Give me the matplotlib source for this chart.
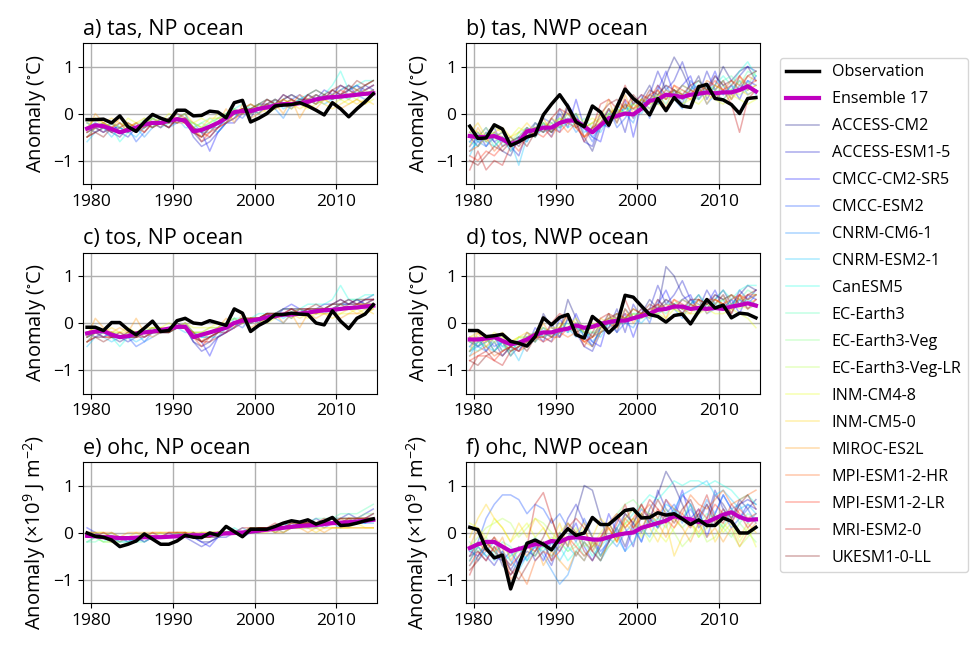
import numpy as np
import matplotlib
matplotlib.use("Agg")
import matplotlib.pyplot as plt

plt.rcParams['font.family'] = ['Open Sans', 'DejaVu Sans']
plt.rcParams['mathtext.fontset'] = 'custom'
plt.rcParams['mathtext.rm'] = 'Open Sans'
plt.rcParams['mathtext.default'] = 'regular'

# ---------------------------------------------------------------- data
years = np.arange(1979, 2015)

model_names = ["ACCESS-CM2", "ACCESS-ESM1-5", "CMCC-CM2-SR5", "CMCC-ESM2",
               "CNRM-CM6-1", "CNRM-ESM2-1", "CanESM5", "EC-Earth3",
               "EC-Earth3-Veg", "EC-Earth3-Veg-LR", "INM-CM4-8", "INM-CM5-0",
               "MIROC-ES2L", "MPI-ESM1-2-HR", "MPI-ESM1-2-LR", "MRI-ESM2-0",
               "UKESM1-0-LL"]

# a) tas, NP ocean
tas_np_obs = [-.13,-.13,-.12,-.2,-.05,-.28,-.38,-.18,-.02,  -.1,-.16,.07,.07,-.05,-.04,.05,.03,-.09,
              .23,.28,-.18,-.1,0,.16,.18,.19,.23,  .16,.07,-.03,.23,.1,-.07,.1,.25,.42]
tas_np_ens = [-.32,-.25,-.27,-.33,-.4,-.35,-.3,-.23,-.2,  -.2,-.15,-.12,-.15,-.38,-.35,-.28,-.2,-.1,
              .03,.05,.05,.1,.13,.17,.2,.2,.22,  .25,.3,.33,.35,.36,.38,.4,.42,.43]
tas_np_models = [
    [-.4,-.3,-.2,-.4,-.5,-.3,-.4,-.3,-.1,  -.2,-.3,-.1,0,-.4,-.6,-.5,-.3,-.1,  0,.1,-.1,.2,.2,.3,.2,.1,.3,  .2,.4,.3,.5,.4,.5,.6,.5,.6],
    [-.3,-.4,-.3,-.2,-.4,-.5,-.3,-.2,-.3,  -.1,-.2,-.2,-.1,-.5,-.7,-.6,-.4,-.2,  -.1,.1,0,.1,.3,.2,.4,.3,.2,  .4,.3,.5,.4,.6,.5,.4,.6,.5],
    [-.2,-.3,-.4,-.3,-.3,-.4,-.2,-.3,-.2,  -.3,-.1,-.2,-.1,-.3,-.4,-.8,-.4,-.2,  -.2,0,.1,0,.2,.1,.3,.4,.3,  .3,.2,.4,.3,.5,.6,.4,.5,.6],
    [-.3,-.2,-.3,-.4,-.2,-.3,-.6,-.4,-.2,  -.2,-.2,-.1,-.2,-.4,-.5,-.3,-.3,-.1,  0,-.1,.1,.2,.1,.3,.2,.3,.4,  .2,.3,.4,.3,.4,.5,.6,.4,.5],
    [-.4,-.3,-.4,-.2,-.3,-.4,-.3,-.5,-.3,  -.2,-.3,-.2,-.1,-.2,-.4,-.4,-.2,-.2,  .1,0,.1,0,.2,.1,-.1,.2,.3,  .3,.2,.3,.4,.3,.5,.4,.3,.4],
    [-.6,-.4,-.3,-.5,-.3,-.4,-.5,-.3,-.2,  -.3,-.2,-.1,-.3,-.3,-.4,-.3,-.4,-.2,  -.1,.1,0,.1,.2,.3,.1,.2,.3,  .4,.3,.2,.3,.4,.3,.5,.4,.4],
    [-.5,-.3,-.2,-.3,-.6,-.4,-.3,-.2,-.1,  -.2,-.1,0,-.2,-.2,-.3,-.2,-.1,0,  .1,.2,.1,.2,.3,.2,.3,.4,.3,  .4,.5,.4,.6,.9,.5,.6,.7,.7],
    [-.3,-.2,-.3,-.2,-.3,-.2,-.4,-.2,-.3,  -.1,-.2,-.1,0,-.3,-.2,-.1,-.2,0,  .1,0,.2,.1,.2,.1,.3,.2,.2,  .3,.4,.3,.4,.5,.6,.5,.6,.7],
    [-.2,-.3,-.2,-.3,-.4,-.2,-.3,-.1,-.2,  -.2,-.1,-.2,-.1,-.3,-.2,-.3,-.1,-.1,  0,.1,0,.2,.1,.3,.2,.2,.3,  .2,.3,.4,.3,.4,.3,.5,.4,.5],
    [-.3,-.1,-.2,-.3,-.2,-.3,-.2,-.2,-.1,  -.2,-.2,-.1,-.2,-.2,-.3,-.2,-.1,-.2,  0,0,.1,0,.2,.1,.2,.3,.2,  .3,.2,.3,.4,.3,.4,.3,.5,.4],
    [-.2,-.1,-.3,-.2,-.3,-.1,-.2,-.3,-.1,  -.2,0,-.1,-.1,-.2,-.1,-.2,0,-.1,  .1,0,.1,.2,0,.1,.2,.1,.2,  .1,.2,.3,.2,.3,.2,.3,.2,.3],
    [-.3,-.1,-.2,-.1,-.2,-.3,-.2,-.1,-.2,  -.1,-.2,-.1,0,-.2,-.3,-.1,-.1,0,  0,.1,.2,.1,.1,.2,.3,.2,.1,  .2,.3,.2,.1,.2,.3,.2,.3,.2],
    [-.4,0,-.2,-.3,-.1,-.2,-.3,-.2,-.3,  -.2,-.1,-.2,-.1,-.3,-.5,-.3,-.2,.1,  -.2,.2,-.1,0,.1,.2,0,.3,-.1,  .2,.1,.3,.2,.1,.2,.3,.2,.4],
    [-.5,-.3,-.2,-.3,-.4,-.3,-.2,-.4,-.2,  -.3,-.1,-.2,-.2,-.4,-.5,-.4,-.2,-.1,  0,.1,0,.1,.3,.2,.3,.2,.4,  .3,.2,.4,.3,.4,.5,.4,.5,.6],
    [-.4,-.3,-.4,-.3,-.2,-.4,-.3,-.3,-.2,  -.2,-.3,-.1,-.2,-.3,-.6,-.4,-.3,-.2,  -.1,0,.1,.1,.2,.3,.2,.3,.2,  .4,.3,.3,.4,.5,.4,.5,.4,.5],
    [-.5,-.4,-.3,-.4,-.3,-.2,-.3,-.4,-.2,  -.2,-.2,0,-.1,-.3,-.4,-.5,-.3,-.2,  0,.1,.2,.1,.2,.1,.3,.4,.3,  .3,.4,.3,.5,.4,.6,.5,.6,.7],
    [-.5,-.4,-.5,-.3,-.4,-.3,-.4,-.2,-.3,  -.2,-.3,-.1,-.2,-.4,-.5,-.3,-.2,-.1,  0,.1,.1,.2,.3,.2,.4,.3,.2,  .4,.5,.4,.5,.6,.5,.7,.6,.7],
]

# b) tas, NWP ocean
tas_nwp_obs = [-.27,-.53,-.52,-.24,-.33,-.68,-.6,-.5,-.45,  -.03,.2,.4,.15,-.18,-.28,.16,.03,-.25,
               .14,.52,.32,.18,-.03,.32,.06,.34,.16,  .13,.57,.62,.32,.29,.19,0,.32,.34]
tas_nwp_ens = [-.48,-.5,-.5,-.48,-.55,-.65,-.6,-.38,-.35,  -.3,-.3,-.2,-.15,-.15,-.28,-.4,-.25,-.1,
               -.05,0,-.02,.1,.27,.3,.4,.38,.35,  .4,.42,.45,.43,.45,.45,.5,.58,.47]
tas_nwp_models = [
    [-.5,-.7,-.4,-.6,-.8,-.9,-.5,-.3,-.5,  -.2,-.4,.1,-.2,0,-.5,-.8,-.3,.1,  -.2,.2,-.1,.3,.6,.2,.8,1.2,.9,  .5,.8,.3,.6,1.,.7,.9,1.,.7],
    [-.6,-.4,-.7,-.5,-.4,-.7,-.9,-.4,-.2,  -.4,-.1,-.3,.2,-.2,-.6,-.7,-.2,-.3,  .1,-.4,.3,.1,.4,.9,.5,.7,1.1,  .6,.4,.9,.5,.7,.4,.8,1.,.9],
    [-.4,-.6,-.5,-.3,-.7,-.6,-.5,-.6,-.2,  -.3,-.5,0,-.3,.3,-.3,-.5,-.6,0,  -.1,.3,-.5,.2,.3,.5,.9,.4,.6,  .8,.3,.5,.9,.4,.6,.3,.7,.6],
    [-.7,-.5,-.3,-.6,-.5,-.8,-.6,-.3,-.4,  -.1,-.2,-.4,.2,-.1,-.3,-.6,-.2,.1,  -.3,-.1,.2,.4,-.1,.6,.3,.5,.2,  .7,.5,.4,.8,.6,.3,.6,.5,.8],
    [-.8,-.6,-.7,-.4,-.6,-.5,-.7,-.4,-.5,  -.3,-.4,-.2,-.1,-.4,-.2,-.5,-.3,-.2,  .2,0,-.2,.3,.1,.4,.6,.3,.1,  .5,.6,.2,.4,.3,.5,.7,.4,.5],
    [-.9,-.5,-.6,-.7,-.5,-.6,-1.1,-.5,-.3,  -.4,-.3,-.3,-.2,0,-.4,-.3,-.4,-.1,  0,.1,.1,0,.3,.2,.4,.5,.3,  .4,.3,.6,.5,.4,.6,.5,.7,.4],
    [-.6,-.7,-.5,-.4,-.6,-.7,-.5,-.6,-.3,  -.2,-.4,-.1,-.3,-.2,-.3,-.4,-.2,-.1,  .1,0,.3,.2,.4,.3,.5,.4,.6,  .5,.7,.5,.6,.8,.6,.9,1.1,.8],
    [-.3,-.6,-.4,-.7,-.5,-.8,-.4,-.3,-.5,  -.2,-.3,-.2,0,-.3,-.1,-.3,-.2,0,  -.1,.1,.2,.1,.3,.4,.2,.5,.4,  .5,.4,.6,.5,.7,.8,.6,.9,.8],
    [-.5,-.4,-.6,-.5,-.7,-.5,-.6,-.4,-.3,  -.4,-.2,-.3,-.1,-.2,-.3,-.2,-.3,0,  .1,0,.2,.3,.2,.4,.3,.4,.5,  .4,.6,.5,.4,.6,.5,.7,.6,.9],
    [-.4,-.5,-.3,-.5,-.4,-.6,-.4,-.5,-.2,  -.3,-.2,-.1,-.2,-.1,-.3,-.2,-.1,.1,  0,.2,.1,.3,.2,.3,.4,.3,.2,  .4,.3,.5,.4,.3,.5,.4,.5,.6],
    [-.3,-.4,-.5,-.3,-.4,-.5,-.3,-.4,-.3,  -.2,-.3,-.1,-.2,0,-.2,-.1,-.2,0,  .1,0,.2,.1,.3,.2,.1,.3,.2,  .3,.2,.4,.3,.2,.4,.3,.2,.3],
    [-.4,-.2,-.5,-.4,-.3,-.5,-.4,-.2,-.4,  -.3,-.1,-.2,0,-.1,-.3,-.2,0,-.1,  .2,.1,.3,.2,.1,.4,.3,.5,.4,  .3,.5,.4,.6,.5,.3,.5,.4,.5],
    [-.7,-.3,-.6,-.4,-.5,-.7,-.6,-.3,-.5,  -.1,-.4,-.2,.2,-.3,-.5,-.3,-.1,.3,  -.2,.4,0,.3,.2,.5,.1,.6,.4,  .3,.6,.2,.5,.7,.3,.8,.5,.6],
    [-.8,-.7,-.5,-.8,-.6,-.5,-.7,-.5,-.4,  -.3,-.5,-.2,-.4,-.2,-.5,-.4,-.2,-.1,  0,.2,.1,.3,.4,.3,.5,.4,.6,  .5,.4,.7,.6,.5,.7,.6,.8,.7],
    [-.9,-1.,-.8,-.9,-.7,-.6,-.8,-.5,-.4,  -.5,-.3,-.4,-.2,-.3,-.5,-.3,-.2,.1,  -.1,.3,.1,.2,.4,.5,.3,.6,.5,  .4,.6,.5,.7,.5,.6,.8,.6,.7],
    [-1.2,-.8,-1.2,-1.,-1.1,-.7,-.6,-.5,-.3,  -.4,-.1,.1,0,-.2,-.6,-.3,.2,.3,  .1,.6,.2,.4,.3,.6,.4,.5,.3,  .5,.4,.6,.3,.5,.2,-.4,.3,.5],
    [-1.,-1.1,-.9,-.7,-.8,-.6,-.5,-.7,-.4,  -.3,-.4,-.2,.1,-.3,-.2,-.4,0,.2,  .3,.1,.4,.2,.5,.4,.6,.5,.4,  .6,.7,.5,.8,.6,.7,.5,.8,.9],
]

# c) tos, NP ocean
tos_np_obs = [-.09,-.09,-.16,.01,.01,-.14,-.25,-.11,.04,  -.18,-.16,.05,.1,0,-.02,.05,0,-.05,
              .3,.21,-.18,-.05,.04,.18,.18,.21,.19,  .18,0,-.04,.26,.04,-.12,.1,.19,.39]
tos_np_ens = [-.22,-.18,-.17,-.25,-.3,-.28,-.22,-.2,-.18,  -.15,-.12,-.08,-.08,-.3,-.25,-.2,-.15,-.1,
              0,.05,.05,.08,.12,.15,.18,.18,.2,  .22,.25,.27,.28,.3,.32,.33,.35,.37]
tos_np_models = [
    [-.3,-.2,-.2,-.3,-.4,-.3,-.3,-.2,-.1,  -.2,-.2,0,-.1,-.4,-.5,-.4,-.2,-.1,  0,.1,0,.1,.2,.2,.2,.1,.3,  .2,.3,.3,.4,.4,.4,.5,.4,.5],
    [-.2,-.3,-.2,-.2,-.3,-.4,-.3,-.2,-.2,  -.1,-.2,-.1,-.1,-.4,-.6,-.5,-.3,-.2,  -.1,.1,0,.1,.2,.2,.3,.3,.2,  .3,.3,.4,.4,.5,.4,.4,.5,.5],
    [-.2,-.2,-.3,-.2,-.3,-.3,-.2,-.3,-.2,  -.2,-.1,-.1,0,-.2,-.4,-.7,-.3,-.2,  -.1,0,.1,0,.2,.1,.3,.4,.3,  .3,.2,.3,.3,.4,.5,.4,.5,.6],
    [-.3,-.2,-.2,-.3,-.2,-.3,-.5,-.4,-.2,  -.2,-.1,-.1,-.1,-.3,-.4,-.3,-.2,-.1,  0,-.1,.1,.1,.1,.2,.2,.3,.3,  .2,.3,.3,.3,.4,.4,.5,.4,.5],
    [-.3,-.2,-.3,-.2,-.3,-.3,-.2,-.4,-.3,  -.2,-.2,-.1,-.1,-.2,-.3,-.3,-.2,-.2,  .1,0,.1,0,.2,.1,0,.2,.2,  .3,.2,.3,.3,.3,.4,.4,.3,.4],
    [-.5,-.3,-.3,-.4,-.3,-.3,-.4,-.3,-.2,  -.2,-.2,-.1,-.2,-.2,-.3,-.3,-.3,-.1,  -.1,.1,0,.1,.2,.2,.1,.2,.3,  .3,.3,.2,.3,.4,.3,.4,.4,.4],
    [-.4,-.2,-.2,-.3,-.5,-.3,-.3,-.2,-.1,  -.2,-.1,0,-.1,-.2,-.3,-.2,-.1,0,  .1,.1,.1,.2,.2,.2,.3,.3,.3,  .4,.4,.4,.5,.8,.5,.5,.6,.6],
    [-.3,-.2,-.2,-.2,-.3,-.2,-.3,-.2,-.2,  -.1,-.2,-.1,0,-.2,-.2,-.1,-.1,0,  .1,0,.1,.1,.2,.1,.2,.2,.2,  .3,.3,.3,.4,.4,.5,.5,.5,.6],
    [-.2,-.2,-.2,-.3,-.3,-.2,-.2,-.1,-.2,  -.2,-.1,-.1,-.1,-.2,-.2,-.2,-.1,-.1,  0,.1,0,.1,.1,.2,.2,.2,.3,  .2,.3,.3,.3,.4,.3,.4,.4,.4],
    [-.2,-.1,-.2,-.2,-.2,-.3,-.2,-.2,-.1,  -.1,-.2,-.1,-.1,-.2,-.2,-.2,-.1,-.1,  0,0,.1,0,.1,.1,.2,.2,.2,  .2,.2,.3,.3,.3,.3,.3,.4,.4],
    [-.1,-.1,-.2,-.2,-.2,-.1,-.2,-.2,-.1,  -.1,0,-.1,0,-.1,-.1,-.1,0,0,  .1,0,.1,.1,0,.1,.2,.1,.2,  .1,.2,.2,.2,.2,.2,.3,.2,.3],
    [-.2,-.1,-.2,-.1,-.2,-.2,-.2,-.1,-.1,  -.1,-.1,-.1,0,-.2,-.2,-.1,-.1,0,  0,.1,.1,.1,.1,.2,.2,.2,.1,  .2,.2,.2,.1,.2,.3,.2,.3,.2],
    [-.3,.1,-.1,-.2,-.1,-.2,.1,-.2,-.3,  -.2,-.1,-.1,-.1,-.2,-.4,-.2,-.1,.1,  -.1,.2,-.1,0,.1,.2,0,.2,-.1,  .2,.1,.2,.2,.1,.2,.2,.2,.3],
    [-.4,-.2,-.2,-.2,-.3,-.3,-.2,-.3,-.2,  -.2,-.1,-.1,-.1,-.3,-.4,-.3,-.2,-.1,  0,.1,0,.1,.2,.2,.2,.2,.3,  .3,.2,.3,.3,.3,.4,.4,.4,.5],
    [-.3,-.2,-.3,-.3,-.2,-.3,-.3,-.2,-.2,  -.2,-.2,-.1,-.1,-.3,-.5,-.3,-.2,-.2,  -.1,0,.1,.1,.2,.2,.2,.3,.2,  .3,.3,.3,.3,.4,.3,.4,.4,.4],
    [-.4,-.3,-.3,-.3,-.3,-.2,-.3,-.3,-.2,  -.2,-.2,0,-.1,-.2,-.4,-.4,-.3,-.2,  0,.1,.1,.1,.2,.1,.2,.3,.3,  .3,.3,.3,.4,.4,.5,.4,.5,.5],
    [-.4,-.3,-.4,-.3,-.3,-.3,-.3,-.2,-.2,  -.2,-.2,-.1,-.1,-.3,-.4,-.3,-.2,-.1,  0,.1,.1,.1,.2,.2,.3,.3,.2,  .3,.4,.3,.4,.5,.4,.5,.5,.5],
]

# d) tos, NWP ocean
tos_nwp_obs = [-.16,-.16,-.29,-.27,-.24,-.39,-.43,-.49,-.29,  .11,-.04,.12,.18,-.25,-.32,.14,0,-.21,
               -.04,.59,.55,.36,.18,.14,.02,.16,.19,  -.02,.25,.5,.32,.38,.11,.21,.19,.11]
tos_nwp_ens = [-.35,-.35,-.33,-.3,-.38,-.45,-.42,-.35,-.25,  -.2,-.2,-.15,-.12,-.05,-.1,-.08,-.02,.02,
               .05,.05,.1,.15,.2,.28,.3,.35,.35,  .3,.32,.3,.32,.3,.35,.38,.42,.37]
tos_nwp_models = [
    [-.4,-.5,-.3,-.6,-.4,-.7,-.5,-.3,-.4,  .2,-.1,-.2,.5,.1,-.3,-.5,-.1,.2,  -.2,.3,.1,.2,.5,.3,1.2,1.,.6,  .4,.6,.3,.5,.7,.4,.6,.8,.7],
    [-.5,-.3,-.6,-.4,-.7,-.5,-.6,-.3,-.2,  -.4,0,-.3,.1,-.2,-.5,-.6,-.2,-.1,  .3,-.2,.4,.1,.3,.8,.4,.6,.9,  .5,.3,.7,.4,.6,.3,.7,.5,.7],
    [-.3,-.5,-.4,-.3,-.6,-.5,-.4,-.5,-.1,  -.3,-.4,.1,-.2,.2,-.2,-.4,-.5,.1,  0,.2,-.3,.2,.3,.4,.7,.3,.5,  .6,.2,.4,.7,.3,.5,.2,.6,.5],
    [-.6,-.4,-.3,-.5,-.4,-.6,-.5,-.2,-.3,  -.1,-.2,-.3,.1,-.1,-.2,-.5,-.1,0,  -.2,0,.1,.3,0,.5,.3,.4,.2,  .5,.4,.3,.6,.5,.2,.5,.4,.6],
    [-.6,-.5,-.6,-.3,-.5,-.4,-.6,-.3,-.4,  -.2,-.3,-.2,-.1,-.3,-.1,-.4,-.2,-.1,  .2,0,-.1,.2,.1,.3,.5,.3,.1,  .4,.5,.2,.3,.3,.4,.5,.3,.4],
    [-.7,-.4,-.5,-.6,-.4,-.5,-.8,-.4,-.2,  -.3,-.2,-.2,-.1,0,-.3,-.2,-.3,0,  0,.1,.1,0,.2,.2,.3,.4,.3,  .3,.3,.5,.4,.3,.5,.4,.5,.4],
    [-.5,-.6,-.4,-.3,-.5,-.6,-.4,-.5,-.2,  -.1,-.3,-.1,-.2,-.1,-.2,-.3,-.1,0,  .1,.1,.2,.2,.3,.3,.4,.4,.5,  .4,.6,.4,.5,.7,.5,.7,.8,.8],
    [-.4,-.5,-.3,-.6,-.4,-.7,-.3,-.3,-.4,  -.2,-.2,-.1,0,-.2,-.1,-.2,-.1,0,  -.1,.1,.2,.1,.2,.3,.2,.4,.3,  .4,.3,.5,.4,.5,.6,.5,.7,.6],
    [-.6,-.4,-.5,-.4,-.6,-.4,-.5,-.3,-.2,  -.3,-.2,-.2,-.1,-.1,-.2,-.2,-.2,0,  .1,0,.2,.2,.2,.3,.3,.3,.4,  .3,.5,.4,.3,.5,.4,.5,.5,.6],
    [-.4,-.4,-.3,-.4,-.3,-.5,-.3,-.4,-.2,  -.2,-.2,-.1,-.1,0,-.2,-.1,-.1,.1,  0,.1,.1,.2,.2,.2,.3,.3,.2,  .3,.2,.4,.3,.3,.4,.3,.4,.4],
    [-.3,-.3,-.4,-.2,-.3,-.4,-.3,-.3,-.2,  -.1,-.2,0,-.1,.1,-.1,0,-.1,.1,  .1,.1,.2,.1,.2,.2,.1,.3,.2,  .2,.2,.3,.2,.2,.3,.2,.1,-.1],
    [-.3,-.2,-.4,-.3,-.2,-.4,-.3,-.2,-.3,  -.2,-.1,-.1,.1,0,-.2,-.1,.1,0,  .2,.1,.3,.2,.1,.3,.3,.4,.3,  .3,.4,.3,.5,.4,.3,.4,.3,.4],
    [-.6,-.2,-.5,-.3,-.4,-.6,-.5,-.2,-.4,  0,-.3,-.1,.2,-.2,-.4,-.5,-.2,.2,  -.1,.3,0,.2,.2,.4,.1,.5,.3,  .2,.5,.2,.4,.6,.2,.6,.4,.5],
    [-.7,-.6,-.5,-.7,-.6,-.5,-.6,-.5,-.3,  -.3,-.4,-.2,-.3,-.2,-.4,-.3,-.2,-.1,  0,.1,.1,.2,.3,.3,.4,.3,.5,  .4,.3,.5,.5,.4,.6,.5,.6,.6],
    [-.8,-.7,-.7,-.8,-.6,-.5,-.6,-.4,-.3,  -.4,-.3,-.3,-.1,-.2,-.4,-.3,-.1,0,  -.1,.2,.1,.2,.3,.4,.3,.5,.4,  .3,.5,.4,.5,.4,.5,.6,.5,.6],
    [-1.,-.7,-.6,-.8,-.9,-.6,-.5,-.4,-.3,  -.3,0,.2,.1,-.1,-.5,-.2,.1,.2,  .1,.5,.1,.3,.2,.5,.3,.4,.2,  .4,.3,.5,.3,.4,.2,.6,.3,.5],
    [-.8,-.9,-.7,-.6,-.7,-.5,-.4,-.6,-.3,  -.2,-.3,-.1,.2,-.2,-.1,-.3,0,.1,  .2,.1,.3,.2,.4,.3,.5,.4,.3,  .5,.5,.4,.6,.5,.6,.4,.6,.7],
]

# e) ohc, NP ocean
ohc_np_obs = [-.01,-.08,-.1,-.16,-.3,-.25,-.18,-.03,-.14,  -.25,-.25,-.18,-.06,-.1,-.11,-.01,-.06,.13,
              .02,-.09,.07,.07,.07,.13,.2,.25,.22,  .27,.18,.24,.32,.15,.16,.2,.25,.29]
ohc_np_ens = [-.07,-.08,-.1,-.1,-.12,-.12,-.11,-.1,-.1,  -.1,-.09,-.08,-.07,-.06,-.06,-.05,-.03,-.02,
              -.01,0,.02,.04,.06,.08,.1,.12,.14,  .15,.16,.18,.2,.21,.22,.23,.25,.27]
ohc_np_models = [
    [0,-.1,-.1,-.1,-.2,-.1,-.1,-.2,-.1,  -.1,-.1,-.1,-.1,-.1,-.2,-.2,-.1,0,  0,0,0,.1,.1,0,.1,.1,.2,  .2,.2,.2,.3,.2,.3,.3,.3,.4],
    [0,-.1,-.1,-.2,-.1,-.2,-.1,-.1,-.1,  -.1,-.1,0,-.1,-.2,-.3,-.2,-.1,-.1,  0,0,.1,.1,.1,.1,.2,.1,.2,  .2,.3,.2,.3,.3,.4,.3,.4,.5],
    [.1,0,-.1,-.1,-.1,-.1,-.2,-.1,-.1,  -.1,0,-.1,-.1,-.1,-.2,-.3,-.1,0,  0,-.1,0,0,.1,.1,.1,.2,.1,  .2,.2,.1,.2,.2,.2,.3,.2,.3],
    [0,0,-.1,-.1,-.1,-.1,-.1,-.2,-.1,  -.1,-.1,-.1,0,-.1,-.1,-.1,0,0,  0,0,0,.1,.1,.1,.1,.1,.2,  .1,.2,.2,.2,.2,.2,.2,.3,.3],
    [-.1,-.1,-.1,0,-.1,-.2,-.1,-.1,-.1,  -.1,-.1,-.1,-.1,0,-.1,-.1,-.1,0,  0,.1,0,0,.1,.1,0,.1,.1,  .1,.1,.2,.2,.1,.2,.2,.2,.2],
    [-.2,-.1,-.1,-.1,-.2,-.2,-.1,-.1,-.1,  -.1,-.1,-.1,0,-.1,-.1,-.1,-.1,0,  0,0,0,0,.1,.1,.1,.1,.1,  .2,.1,.2,.2,.2,.2,.2,.2,.3],
    [-.1,-.1,-.2,-.1,-.1,-.1,-.2,-.1,-.1,  -.1,-.1,0,-.1,-.1,0,-.1,0,0,  .1,0,.1,.1,.1,.1,.2,.1,.2,  .2,.2,.2,.2,.3,.3,.2,.3,.3],
    [-.2,-.2,-.1,-.2,-.2,-.2,-.2,-.2,-.1,  -.1,-.1,-.1,-.1,-.1,-.1,0,0,0,  0,0,.1,.1,.1,.1,.2,.2,.2,  .2,.3,.3,.3,.4,.4,.4,.5,.6],
    [-.2,-.1,-.2,-.2,-.3,-.2,-.2,-.1,-.1,  -.1,-.1,-.1,-.1,-.1,0,-.1,0,0,  0,0,.1,.1,.1,.1,.1,.2,.2,  .2,.2,.2,.3,.3,.3,.3,.4,.4],
    [-.1,-.1,-.2,-.2,-.2,-.1,-.1,-.1,-.1,  -.1,-.1,-.1,0,-.1,-.1,0,0,0,  0,0,0,.1,.1,.1,.1,.1,.2,  .2,.2,.2,.2,.2,.3,.3,.3,.3],
    [-.1,0,0,-.1,-.1,-.1,-.1,0,-.1,  0,-.1,0,0,0,-.1,0,0,0,  0,0,0,0,.1,0,.1,.1,.1,  .1,.1,.1,.1,.1,.1,.2,.1,.1],
    [0,0,-.1,0,-.1,-.1,0,-.1,0,  0,0,0,0,-.1,0,0,0,0,  0,0,.1,0,0,.1,0,.1,.1,  .1,0,.1,.1,.1,.1,.1,.1,.1],
    [0,0,0,0,-.1,0,0,0,0,  0,0,0,0,0,0,0,0,0,  0,0,0,0,.1,0,0,.1,.1,  0,.1,0,.1,.1,.1,.1,.1,.1],
    [-.1,-.1,-.1,-.1,-.1,-.1,-.1,-.1,-.1,  -.1,-.1,-.1,0,-.1,-.1,-.1,0,0,  0,0,.1,.1,.1,.1,.1,.2,.2,  .2,.2,.2,.2,.3,.2,.3,.3,.3],
    [-.1,-.1,-.1,-.2,-.1,-.1,-.1,-.1,-.1,  -.1,-.1,-.1,-.1,-.1,-.1,-.1,-.1,0,  0,0,0,.1,.1,.1,.1,.1,.2,  .2,.2,.2,.2,.2,.3,.2,.3,.3],
    [-.1,-.1,0,-.1,-.1,-.1,-.1,-.1,0,  -.1,0,0,0,-.1,-.1,0,0,0,  0,.1,.1,.1,.1,.2,.1,.2,.2,  .2,.2,.3,.2,.3,.3,.3,.3,.4],
    [-.1,-.1,-.1,-.1,-.1,-.1,-.1,-.1,-.1,  -.1,-.1,-.1,-.1,0,-.1,-.1,0,0,  0,0,0,.1,.1,.1,.1,.1,.2,  .2,.2,.2,.2,.3,.3,.3,.3,.3],
]

# f) ohc, NWP ocean
ohc_nwp_obs = [.11,.06,-.34,-.54,-.48,-1.2,-.7,-.23,-.16,  -.25,-.37,-.12,.08,-.06,-.01,.32,.17,.17,
               .32,.47,.5,.31,.32,.42,.37,.4,.29,  .17,.27,.15,.15,.31,.24,-.01,-.01,.11]
ohc_nwp_ens = [-.33,-.25,-.2,-.2,-.3,-.4,-.35,-.3,-.25,  -.25,-.18,-.2,-.12,-.1,-.12,-.15,-.15,-.1,
               -.05,-.02,0,.1,.15,.2,.25,.35,.3,  .28,.22,.22,.3,.38,.43,.33,.27,.28]
ohc_nwp_models = [
    [-.5,-.4,-.6,-.3,-.7,-.9,-.6,-.4,-.5,  -.2,-.6,0,-.3,.4,1.,.9,.3,-.2,  .1,-.3,.2,0,.5,.8,1.3,1.,.6,  .2,.4,.1,.8,.6,.3,.7,.5,.7],
    [-.6,-.3,-.5,-.7,-.4,-.8,-.5,-.2,-.6,  -.4,-.7,-.2,.3,.6,.2,-.1,-.5,-.2,  .3,.1,-.3,.4,.2,.9,.5,.3,.8,  .6,.1,.3,.9,.5,.2,.6,.7,.6],
    [-.4,-.5,-.3,-.5,-.6,-.4,-.7,-.5,-.3,  -.6,-.2,-.4,-.1,.2,-.3,-.6,-.2,.4,  0,-.4,.1,-.2,.3,.1,.7,.4,.9,  .3,.5,-.1,.4,.8,.5,.3,.6,.5],
    [-.5,-.2,.3,.6,.8,.8,.7,.4,.6,  .5,.2,.4,.1,-.2,.3,-.1,-.4,-.2,  .1,.4,.2,.5,.3,.1,.4,.6,.3,  .5,.2,.6,.3,.4,.1,.3,.5,.2],
    [-.3,-.6,-.4,-.2,-.5,-.7,-.3,-.6,-.2,  -.5,-.8,-1.1,-.9,-.4,-.6,-.2,-.5,-.1,  -.3,0,.2,-.2,.4,.1,.3,.5,.2,  .6,.3,.7,.4,.8,.5,.6,.2,.4],
    [-.7,-.5,-.3,-.6,-.4,-.6,-.8,-.5,-.3,  -.4,-.2,-.6,-.3,-.5,-.2,-.4,-.6,-.3,  -.1,-.4,-.2,.1,-.1,.3,.6,.5,.8,  .9,1.,1.1,.8,.9,.7,.5,.6,.4],
    [-.4,-.3,-.5,-.4,-.6,-.5,-.3,-.6,-.4,  -.3,-.5,-.3,-.6,-.4,-.2,-.5,-.3,-.1,  0,.2,.4,.6,.8,.7,.9,1.1,1.,  1.1,1.1,1.,1.1,1.,.9,.7,.8,.6],
    [-.2,-.4,-.3,-.5,-.2,-.3,-.6,-.3,-.1,  -.3,-.4,-.2,-.4,-.2,-.5,-.3,-.6,-.2,  .1,.3,.5,.4,.2,.3,.1,.5,.3,  .6,.2,.4,.3,.1,.5,.2,.4,.3],
    [-.6,-.3,-.1,-.4,-.3,-.5,-.4,-.2,-.5,  -.3,-.1,-.2,-.4,-.3,-.1,-.3,-.2,.2,  .4,.6,.7,.5,.4,.2,.5,.3,.1,  .3,-.1,.2,.4,.1,-.1,.2,0,-.2],
    [-.3,-.1,.1,.2,.3,.2,-.1,.1,.3,  .2,0,-.2,-.1,.1,-.3,-.2,-.5,-.3,  -.1,.2,.3,.1,-.2,.1,.3,0,-.3,  -.1,.2,-.2,-.1,.2,0,-.3,-.1,.1],
    [.2,.1,-.1,.3,.1,-.2,0,.2,-.1,  .1,-.2,0,.2,-.1,.1,-.3,0,.2,  -.1,.1,.3,-.1,.2,0,-.2,.1,.3,  .2,-.1,.1,.3,0,.2,-.2,.1,-.3],
    [-.1,.3,.6,.3,.1,-.2,.2,-.1,.3,  .1,-.2,.2,-.3,0,.2,-.1,.3,.1,  -.2,.2,0,.4,.1,-.2,.2,-.5,-.1,  .2,0,.3,-.2,.1,.3,-.1,.2,0],
    [-.3,.1,-.2,-.4,-.1,-.6,-.3,-.5,-.2,  -.7,-.4,-.6,-.8,-.4,-.6,-.2,-.3,.1,  -.2,.3,.5,.1,.4,.2,-.1,.3,.1,  -.2,.2,-.1,.1,-.2,.1,-.3,0,.2],
    [-.5,-.2,-.4,-.1,-.3,-1.,-.8,-1.1,-.6,  -.4,-.5,-.3,-.1,-.5,-.2,-.4,-.1,.1,  -.2,.3,.1,.4,.6,.3,.7,.5,.4,  .8,.6,.5,.7,.9,.6,.7,.8,.9],
    [-.7,-.4,-.6,-.3,-.5,-.7,-.5,-.3,-.4,  -.2,-.6,-.4,-.1,-.3,-.5,-.3,-.1,.2,  .4,.1,.3,.6,.2,.5,.3,.1,.4,  .2,.5,.3,.6,.4,.2,.5,.3,.4],
    [-.9,-.5,-.2,-.4,-.6,-.9,-.7,-.3,.6,  .85,.3,-.2,.1,.3,.1,-.4,-.6,-.2,  .2,.6,.1,.3,.7,.5,.2,.4,.3,  .1,.4,.8,.3,.2,.6,.4,.1,.3],
    [-.8,-.6,-.3,-.1,-.5,-.8,-1.,-.7,-.4,  -.1,.3,-.2,.2,0,-.4,-.6,-.3,.2,  -.1,.4,.2,.6,.3,.7,.4,.2,.5,  .7,.3,.6,.2,.5,.3,.6,.8,.5],
]

titles = ["a) tas, NP ocean", "b) tas, NWP ocean", "c) tos, NP ocean",
          "d) tos, NWP ocean", "e) ohc, NP ocean", "f) ohc, NWP ocean"]
obs_list = [tas_np_obs, tas_nwp_obs, tos_np_obs, tos_nwp_obs, ohc_np_obs, ohc_nwp_obs]
ens_list = [tas_np_ens, tas_nwp_ens, tos_np_ens, tos_nwp_ens, ohc_np_ens, ohc_nwp_ens]
mod_list = [tas_np_models, tas_nwp_models, tos_np_models, tos_nwp_models,
            ohc_np_models, ohc_nwp_models]
ylabels = [r"Anomaly ($^{\circ}$C)"] * 4 + [r"Anomaly ($\times10^{9}$ J m$^{-2}$)"] * 2

# ---------------------------------------------------------------- plot
time = years + 0.5        # mid-year
colors = plt.cm.jet(np.linspace(0, 1, len(model_names)))

fig, axes = plt.subplots(3, 2, figsize=(9.72, 6.47), dpi=100)
fig.subplots_adjust(left=0.0854, right=0.7819, top=0.9335, bottom=0.068,
                    wspace=0.30, hspace=0.486)

for k, ax in enumerate(axes.flat):
    ax.plot(time, obs_list[k], color='k', lw=2.5, zorder=5, label='Observation')
    ax.plot(time, ens_list[k], color='m', lw=3, zorder=4, label='Ensemble 17')
    for j, name in enumerate(model_names):
        ax.plot(time, mod_list[k][j], color=colors[j], lw=1.1, alpha=0.33, zorder=2, label=name)
    ax.set_xlim(1979, 2015)
    ax.set_ylim(-1.5, 1.5)
    ax.set_xticks([1980, 1990, 2000, 2010])
    ax.set_yticks([-1, 0, 1])
    ax.grid(True, color='#b0b0b0', lw=1)
    ax.set_axisbelow(True)
    ax.tick_params(labelsize=12.5)
    ax.set_title(titles[k], loc='left', fontsize=15.5)
    ax.set_ylabel(ylabels[k], fontsize=14.5)

handles, labels = axes[0, 0].get_legend_handles_labels()
fig.legend(handles, labels, loc='upper left', bbox_to_anchor=(780 / 972, 1 - 58 / 647),
           borderaxespad=0, fontsize=11.6, labelspacing=0.68, handlelength=2.0)

fig.savefig("out.png", dpi=100)
